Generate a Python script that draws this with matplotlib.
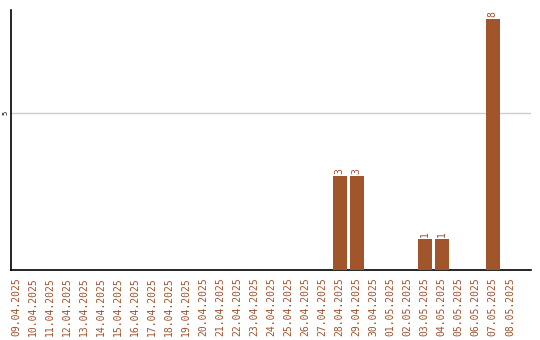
import matplotlib
matplotlib.use("Agg")
import matplotlib.pyplot as plt

dates = ["09.04.2025", "10.04.2025", "11.04.2025", "12.04.2025", "13.04.2025",
         "14.04.2025", "15.04.2025", "16.04.2025", "17.04.2025", "18.04.2025",
         "19.04.2025", "20.04.2025", "21.04.2025", "22.04.2025", "23.04.2025",
         "24.04.2025", "25.04.2025", "26.04.2025", "27.04.2025", "28.04.2025",
         "29.04.2025", "30.04.2025", "01.05.2025", "02.05.2025", "03.05.2025",
         "04.05.2025", "05.05.2025", "06.05.2025", "07.05.2025", "08.05.2025"]
counts = [0, 0, 0, 0, 0, 0, 0, 0, 0, 0,
          0, 0, 0, 0, 0, 0, 0, 0, 0, 3,
          3, 0, 0, 0, 1, 1, 0, 0, 8, 0]
y_ticks = [5]

bar_color = "#A0552A"
text_color = "#A0522D"
mono = "DejaVu Sans Mono"

fig = plt.figure(figsize=(5.4, 3.4), dpi=100)
ax = fig.add_axes([11 / 540, 1 - 270 / 340, 520 / 540, 260 / 340])

x = list(range(len(dates)))
bars = ax.bar(x, counts, width=0.82, color=bar_color, zorder=3)

for xi, v in zip(x, counts):
    if v > 0:
        ax.text(xi, v + 0.06, str(v), rotation=90, ha="center", va="bottom",
                fontsize=7, family=mono, color=text_color)

ax.set_xlim(-0.29, 30.24)
ax.set_ylim(0, 8.28)
ax.set_xticks(x)
ax.set_xticklabels(dates, rotation=90, fontsize=7, family=mono, color=text_color)
ax.set_yticks(y_ticks)
ax.set_yticklabels([str(t) for t in y_ticks], rotation=90, fontsize=5,
                   family=mono, va="center")
ax.tick_params(axis="both", length=0)
ax.tick_params(axis="x", pad=5)
ax.tick_params(axis="y", pad=1.5)
ax.grid(axis="y", color="#cccccc", linewidth=1, zorder=0)

for side in ("top", "right"):
    ax.spines[side].set_visible(False)
for side in ("left", "bottom"):
    ax.spines[side].set_linewidth(1.2)
    ax.spines[side].set_color("black")

fig.savefig("out.png", dpi=100)
